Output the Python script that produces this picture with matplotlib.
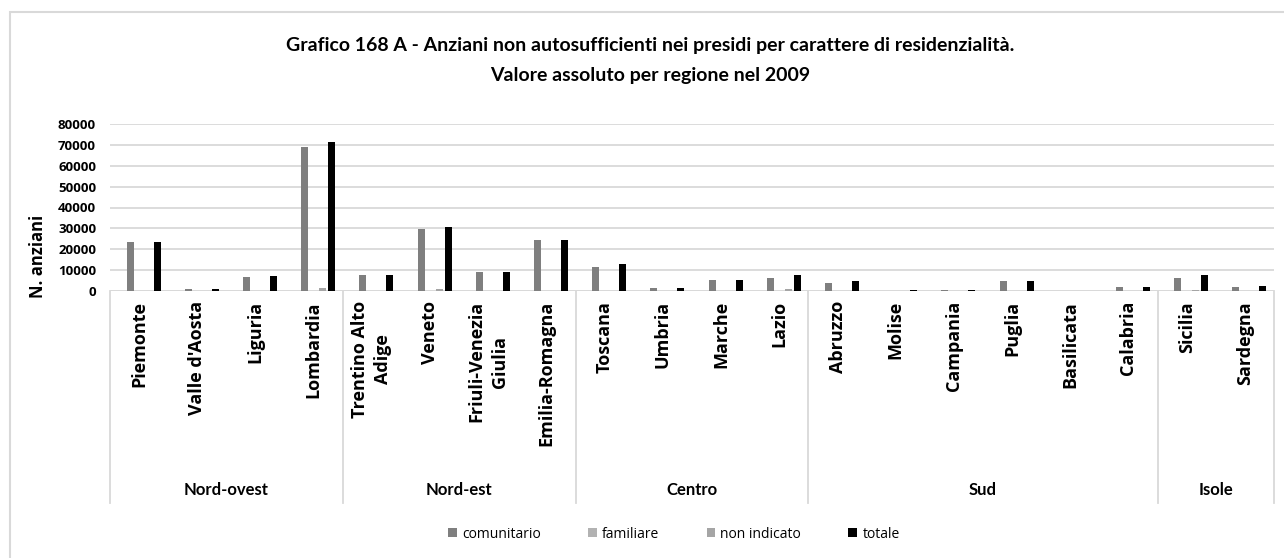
import numpy as np
import matplotlib.pyplot as plt
from matplotlib.patches import Patch, Rectangle
from matplotlib.transforms import blended_transform_factory

regioni = ["Piemonte", "Valle d'Aosta", "Liguria", "Lombardia",
           "Trentino Alto\nAdige", "Veneto", "Friuli-Venezia\nGiulia", "Emilia-Romagna",
           "Toscana", "Umbria", "Marche", "Lazio",
           "Abruzzo", "Molise", "Campania", "Puglia", "Basilicata", "Calabria",
           "Sicilia", "Sardegna"]
ripartizioni = ["Nord-ovest", "Nord-est", "Centro", "Sud", "Isole"]
n_regioni = [4, 4, 4, 6, 2]

comunitario = [23600, 800, 6900, 69100, 7500, 29600, 9000, 24300,
               11700, 1400, 5200, 6300, 4000, 0, 600, 4700, 0, 1900, 6200, 2000]
familiare = [0] * 20
non_indicato = [0, 0, 0, 1500, 0, 1000, 0, 0,
                0, 0, 0, 1000, 0, 0, 0, 0, 0, 0, 700, 0]
totale = [23700, 900, 7000, 71200, 7600, 30500, 9100, 24300,
          12700, 1400, 5200, 7500, 4700, 500, 700, 4700, 0, 1900, 7800, 2600]

serie = ["comunitario", "familiare", "non indicato", "totale"]
valori = [comunitario, familiare, non_indicato, totale]
colori = ["#7f7f7f", "#b2b2b2", "#a5a5a5", "#000000"]

W, H = 1284, 558
fig = plt.figure(figsize=(W / 100, H / 100), dpi=100)

# plot area in pixels: x 110..1274, y 124..291
x0, x1, ytop, ybot = 110, 1274, 124, 291
ax = fig.add_axes([x0 / W, (H - ybot) / H, (x1 - x0) / W, (ybot - ytop) / H])

x = np.arange(len(regioni))
step = 0.155
for i, (nome, v, c) in enumerate(zip(serie, valori, colori)):
    ax.bar(x + (i - 1) * step, v, width=0.12, color=c, label=nome, zorder=3)

ax.set_xlim(-0.5, len(regioni) - 0.5)
ax.set_ylim(0, 80000)
ax.set_yticks(np.arange(0, 80001, 10000))
ax.set_yticklabels([str(t) for t in range(0, 80001, 10000)],
                   fontfamily="Open Sans", fontweight="bold", fontsize=9.5)
ax.yaxis.grid(True, color="#d9d9d9", lw=1.3, zorder=0)
ax.tick_params(axis="y", length=0, pad=10)
ax.set_xticks([])
for s in ax.spines.values():
    s.set_visible(False)
ax.axhline(0, color="#d9d9d9", lw=1.3, zorder=2)

# multi-level category axis
px = ybot - ytop
tr = blended_transform_factory(ax.transData, ax.transAxes)
for i, r in enumerate(regioni):
    ax.text(i, -10 / px, r, rotation=90, ha="center", va="top", transform=tr,
            fontfamily="Open Sans", fontweight="bold", fontsize=13,
            multialignment="center", linespacing=1.35)

bordi = np.concatenate([[0], np.cumsum(n_regioni)]) - 0.5
for b in bordi:
    ax.plot([b, b], [0, -(503 - ybot) / px], color="#d9d9d9", lw=1.3,
            transform=tr, clip_on=False)
for k, nome in enumerate(ripartizioni):
    ax.text((bordi[k] + bordi[k + 1]) / 2, -(490 - ybot) / px, nome,
            ha="center", va="center", transform=tr,
            fontfamily="Lato", fontweight="bold", fontsize=12)

ax.set_ylabel("N. anziani", fontfamily="Open Sans", fontweight="bold", fontsize=12)
ax.yaxis.set_label_coords(-(110 - 47) / (x1 - x0), -(256 - ybot) / px)

fig.text(650 / W, 1 - 46 / H,
         "Grafico 168 A - Anziani non autosufficienti nei presidi per carattere di residenzialità.",
         ha="center", va="center", fontfamily="Lato", fontweight="bold", fontsize=14)
fig.text(650 / W, 1 - 75 / H, "Valore assoluto per regione nel 2009",
         ha="center", va="center", fontfamily="Lato", fontweight="bold", fontsize=14)

handles = [Patch(facecolor=c, edgecolor="none") for c in colori]
fig.legend(handles, serie, loc="center", bbox_to_anchor=(674 / W, 1 - 534 / H),
           ncol=4, frameon=False, handlelength=0.6, handleheight=0.6,
           handletextpad=0.4, columnspacing=3.4,
           prop={"family": "Open Sans", "size": 10})

# chart border
fig.patches.append(Rectangle((10 / W, -0.1), 1.2, 1 - 12 / H + 0.1,
                             transform=fig.transFigure, fill=False,
                             edgecolor="#d9d9d9", lw=1.5))

fig.savefig("out.png", dpi=100)
